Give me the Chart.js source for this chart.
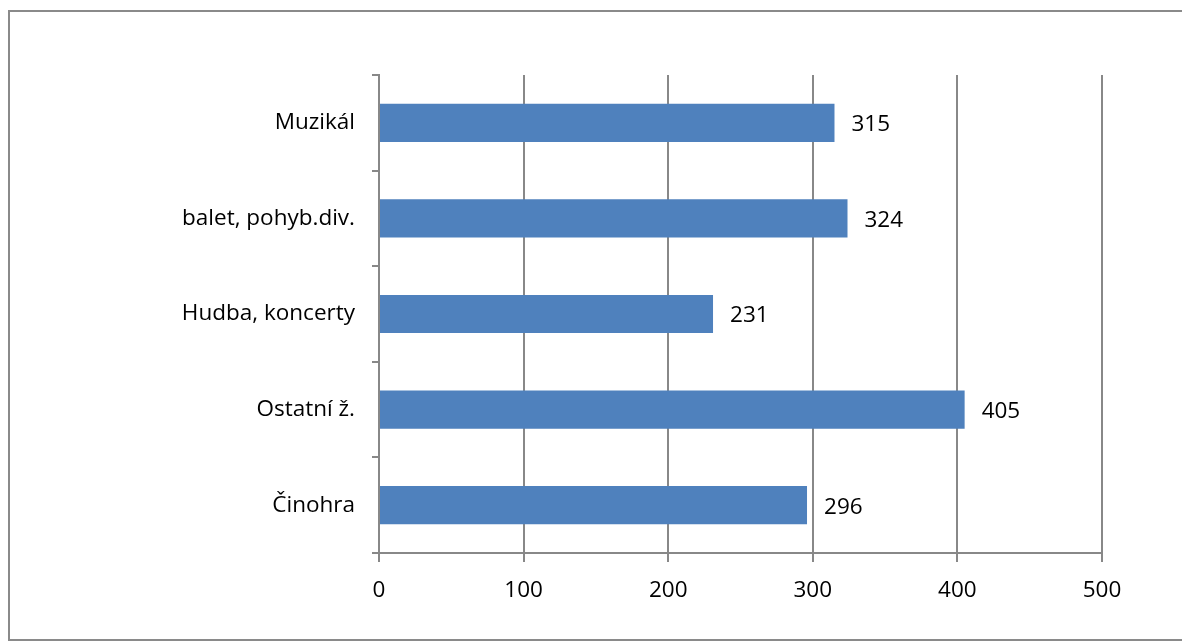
<!DOCTYPE html>
<html>
<head>
<meta charset="utf-8">
<script src="https://cdn.jsdelivr.net/npm/chart.js@4"></script>
<style>
  html, body { margin: 0; padding: 0; background: #fff; }
  #wrap { position: relative; width: 1182px; height: 643px; }
  #frame { position: absolute; left: 8px; top: 10px; width: 1174px; height: 631px; border: 2px solid #8a8a8a; box-sizing: border-box; border-right: none; }
  canvas { position: absolute; left: 0; top: 0; }
</style>
</head>
<body>
<div id="wrap">
  <div id="frame"></div>
  <canvas id="c" width="1182" height="643"></canvas>
</div>
<script>
const categories = ["Muzikál", "balet, pohyb.div.", "Hudba, koncerty", "Ostatní ž.", "Činohra"];
const values = [315, 324, 231, 405, 296];
const xTicks = [0, 100, 200, 300, 400, 500];

const FONT = "'Open Sans', sans-serif";
const FSIZE = 22.5;
const GRID = "#888888";

const dataLabels = {
  id: 'dataLabels',
  afterDatasetsDraw(chart) {
    const ctx = chart.ctx;
    const meta = chart.getDatasetMeta(0);
    ctx.save();
    ctx.font = FSIZE + "px " + FONT;
    ctx.fillStyle = "#000";
    ctx.textAlign = "left";
    ctx.textBaseline = "middle";
    meta.data.forEach((bar, i) => {
      ctx.fillText(String(values[i]), bar.x + 17, bar.y + 2);
    });
    ctx.restore();
  }
};

new Chart(document.getElementById('c'), {
  type: 'bar',
  data: {
    labels: categories,
    datasets: [{
      data: values,
      backgroundColor: '#4F81BD',
      borderWidth: 0,
      barPercentage: 0.4,
      categoryPercentage: 1.0
    }]
  },
  options: {
    indexAxis: 'y',
    responsive: false,
    animation: false,
    events: [],
    layout: { padding: { top: 75, right: 80, left: 0, bottom: 0 } },
    plugins: { legend: { display: false }, tooltip: { enabled: false } },
    scales: {
      x: {
        min: 0, max: 500,
        afterBuildTicks(scale) { scale.ticks = xTicks.map(v => ({ value: v })); },
        afterFit(scale) { scale.height = 90; },
        grid: { color: GRID, lineWidth: 2, tickLength: 9, drawTicks: true },
        border: { color: GRID, width: 2 },
        ticks: { color: '#000', font: { family: FONT, size: FSIZE }, padding: 15, maxRotation: 0 }
      },
      y: {
        afterFit(scale) { scale.width = 379; },
        grid: { drawOnChartArea: false, drawTicks: true, tickLength: 7, color: GRID, lineWidth: 2, offset: true },
        border: { color: GRID, width: 2 },
        ticks: { color: '#000', font: { family: FONT, size: FSIZE, lineHeight: 1.0 }, padding: 17 }
      }
    }
  },
  plugins: [dataLabels]
});
</script>
</body>
</html>
